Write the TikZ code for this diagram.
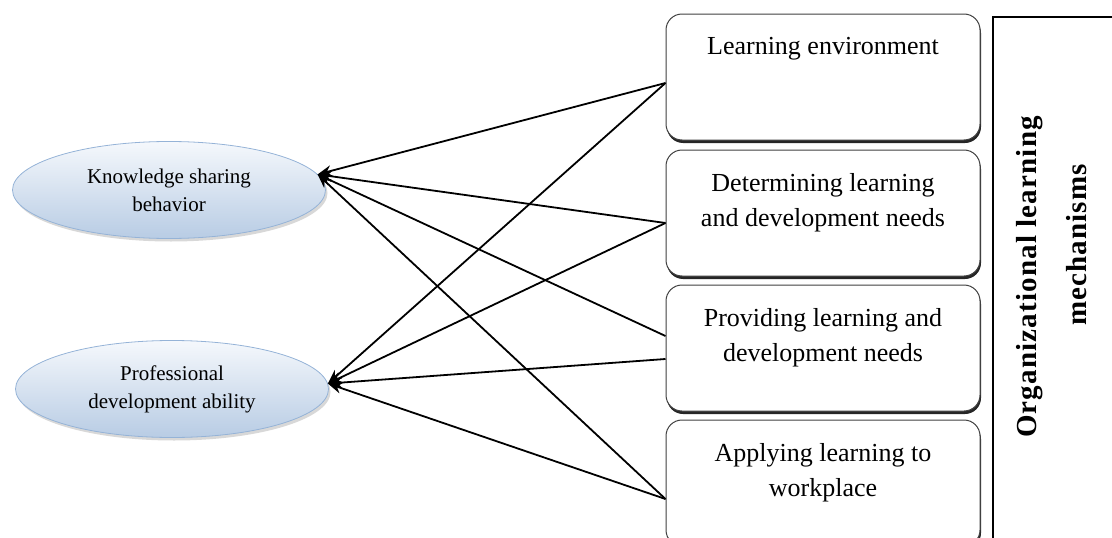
\documentclass[tikz,border=0pt]{standalone}
\usepackage{fontspec}
\setmainfont{Liberation Serif}
\usetikzlibrary{shapes.geometric,arrows.meta,shadows}
\definecolor{ovaltop}{HTML}{F5F8FC}
\definecolor{ovalbot}{HTML}{B8CCE4}
\definecolor{ovalline}{HTML}{95B3D7}

\begin{document}
\begin{tikzpicture}[x=1pt,y=-1pt]
\tikzstyle{oval}=[ellipse, draw=ovalline, line width=0.8pt, top color=ovaltop, bottom color=ovalbot, align=center, minimum width=313pt, minimum height=97pt, font=\fontsize{21}{28}\selectfont, drop shadow={shadow xshift=2pt, shadow yshift=-3pt, fill=black!30}];
\tikzstyle{card}=[draw=black!75, line width=1pt, rounded corners=16pt, fill=white, minimum width=314pt, minimum height=126pt, drop shadow={shadow xshift=1pt, shadow yshift=-3pt, fill=black!85, opacity=1}];
\tikzstyle{cardtext}=[anchor=north, yshift=-24pt, align=center, inner sep=0pt, font=\fontsize{26}{35}\selectfont];
\tikzstyle{side}=[rotate=90, inner sep=0pt, font=\bfseries\fontsize{29}{34}\selectfont\addfontfeature{LetterSpace=4}];
\tikzstyle{link}=[black, line width=1.8pt, -{Stealth[length=14pt,width=11pt]}];
\useasboundingbox (0,0) rectangle (1112,538);
\node [oval] (e1) at (169,190) {Knowledge sharing\\behavior};
\node [oval] (e2) at (172,389) {Professional\\development ability};
\node [card] (b1) at (823,77) {};
\node [card] (b2) at (823,213) {};
\node [card] (b3) at (823,348) {};
\node [card] (b4) at (823,483) {};
\node [cardtext] (t1) at (b1.north) {Learning environment};
\node [cardtext] (t2) at (b2.north) {Determining learning\\and development needs};
\node [cardtext] (t3) at (b3.north) {Providing learning and\\development needs};
\node [cardtext] (t4) at (b4.north) {Applying learning to\\workplace};
\draw [line width=1.5pt] (993,538) |- (1112,17); % frame
\node [side] (o1) at (1030,277) {Organizational learning};
\node [side] (o2) at (1077,245) {mechanisms};
\draw [link] ([yshift=-6pt]b1.west) -- (e1.6);
\draw [link] ([yshift=-6pt]b1.west) -- (e2.2);
\draw [link] ([yshift=-10pt]b2.west) -- (e1.6);
\draw [link] ([yshift=-10pt]b2.west) -- (e2.2);
\draw [link] ([yshift=12pt]b3.west) -- (e1.6);
\draw [link] ([yshift=-11pt]b3.west) -- (e2.2);
\draw [link] ([yshift=-16pt]b4.west) -- (e1.6);
\draw [link] ([yshift=-16pt]b4.west) -- (e2.2);
\end{tikzpicture}
\end{document}
